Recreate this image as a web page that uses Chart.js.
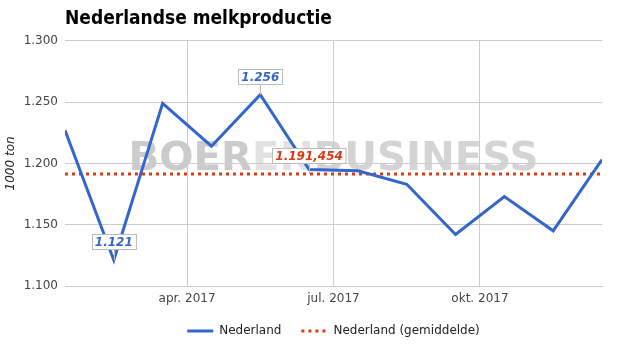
<!DOCTYPE html>
<html>
<head>
<meta charset="utf-8">
<script src="https://cdn.jsdelivr.net/npm/chart.js@4.4.1/dist/chart.umd.min.js"></script>
<style>
html, body { margin: 0; padding: 0; background: #fff; }
#wrap { width: 625px; height: 355px; }
</style>
</head>
<body>
<div id="wrap"><canvas id="myChart"></canvas></div>
<script>
// maandelijkse melkproductie 2017, in 1000 ton
var maanden = ['jan', 'feb', 'mrt', 'apr', 'mei', 'jun', 'jul', 'aug', 'sep', 'okt', 'nov', 'dec'];
var productie = [1227, 1121, 1249, 1214, 1256, 1195, 1194, 1183, 1142, 1173, 1145, 1203];
var gemiddelde = 1191.454;
var tickMaanden = [3, 6, 9];
var tickLabels = ['apr. 2017', 'jul. 2017', 'okt. 2017'];
var yTicks = [1100, 1150, 1200, 1250, 1300];

var FONT = '"DejaVu Sans", sans-serif';
var TITLE_FONT = '"DejaVu Sans Condensed", "DejaVu Sans", sans-serif';

function nl(v, dec) {
    var parts = v.toFixed(dec || 0).split('.');
    parts[0] = parts[0].replace(/\B(?=(\d{3})+(?!\d))/g, '.');
    return parts.join(',');
}

var lijn = productie.map(function (v, i) { return { x: i, y: v }; });
var gemLijn = productie.map(function (v, i) { return { x: i, y: gemiddelde }; });

// watermerk achter de lijnen
var watermark = {
    id: 'watermark',
    beforeDraw: function (chart) {
        var ctx = chart.ctx, a = chart.chartArea;
        var parts = [['BOER', '#cbcbcb'], ['EN', '#e2e2e2'], ['BUSINESS', '#d4d4d4']];
        ctx.save();
        ctx.font = 'bold 39px ' + FONT;
        var total = 0;
        parts.forEach(function (p) { total += ctx.measureText(p[0]).width; });
        var w = 410, sx = w / total;
        var x = (a.left + a.right) / 2 - w / 2;
        ctx.textBaseline = 'alphabetic';
        ctx.translate(x, 170);
        ctx.scale(sx, 1);
        var pos = 0;
        parts.forEach(function (p) {
            ctx.fillStyle = p[1];
            ctx.fillText(p[0], pos, 0);
            pos += ctx.measureText(p[0]).width;
        });
        ctx.restore();
    }
};

function tag(ctx, text, cx, py, color) {
    ctx.font = 'italic bold 12px ' + FONT;
    var tw = ctx.measureText(text).width;
    var bw = tw + 6, bh = 15;
    var bx = Math.round(cx - bw / 2) + 0.5, by = Math.round(py - 11 - bh) + 0.5;
    ctx.strokeStyle = '#bbbbbb';
    ctx.lineWidth = 1;
    ctx.beginPath();
    ctx.moveTo(Math.round(cx) + 0.5, by + bh);
    ctx.lineTo(Math.round(cx) + 0.5, py);
    ctx.stroke();
    ctx.fillStyle = '#ffffff';
    ctx.fillRect(bx, by, bw, bh);
    ctx.strokeRect(bx, by, bw, bh);
    ctx.fillStyle = color;
    ctx.textAlign = 'center';
    ctx.textBaseline = 'middle';
    ctx.fillText(text, cx, by + bh / 2 + 1);
}

var tags = {
    id: 'tags',
    afterDatasetsDraw: function (chart) {
        var ctx = chart.ctx, xs = chart.scales.x, ys = chart.scales.y;
        var iMax = productie.indexOf(Math.max.apply(null, productie));
        var iMin = productie.indexOf(Math.min.apply(null, productie));
        ctx.save();
        tag(ctx, nl(productie[iMax]), xs.getPixelForValue(iMax), ys.getPixelForValue(productie[iMax]), '#3366cc');
        tag(ctx, nl(productie[iMin]), xs.getPixelForValue(iMin), ys.getPixelForValue(productie[iMin]), '#3366cc');
        tag(ctx, nl(gemiddelde, 3), xs.getPixelForValue(5), ys.getPixelForValue(gemiddelde), '#dc3912');
        ctx.restore();
    }
};

var ctx = document.getElementById('myChart');
var myChart = new Chart(ctx, {
    type: 'line',
    data: {
        datasets: [{
            label: 'Nederland',
            data: lijn,
            borderColor: '#3366cc',
            backgroundColor: '#3366cc',
            borderWidth: 3,
            pointRadius: 0,
            tension: 0,
            fill: false
        }, {
            label: 'Nederland (gemiddelde)',
            data: gemLijn,
            borderColor: '#dc3912',
            backgroundColor: '#dc3912',
            borderWidth: 3,
            borderDash: [3, 4],
            borderCapStyle: 'butt',
            pointRadius: 0,
            fill: false
        }]
    },
    options: {
        responsive: true,
        maintainAspectRatio: false,
        animation: false,
        layout: { padding: { left: 0, right: 23, top: 0, bottom: 8 } },
        plugins: {
            title: {
                display: true,
                text: 'Nederlandse melkproductie',
                align: 'start',
                fullSize: false,
                color: '#000',
                font: { family: TITLE_FONT, size: 19, weight: 'bold' },
                padding: { top: 8, bottom: 10 }
            },
            legend: {
                position: 'bottom',
                fullSize: false,
                labels: {
                    usePointStyle: true,
                    pointStyle: 'line',
                    pointStyleWidth: 26,
                    color: '#222',
                    font: { family: FONT, size: 12 },
                    padding: 20,
                    generateLabels: function (chart) {
                        return chart.data.datasets.map(function (ds, i) {
                            return {
                                text: ds.label,
                                datasetIndex: i,
                                fillStyle: ds.borderColor,
                                strokeStyle: ds.borderColor,
                                lineWidth: 3,
                                lineDash: ds.borderDash || [],
                                lineCap: 'butt',
                                pointStyle: 'line',
                                fontColor: '#222',
                                hidden: false
                            };
                        });
                    }
                }
            },
            tooltip: { enabled: false }
        },
        scales: {
            x: {
                type: 'linear',
                min: 0,
                max: productie.length - 1,
                afterBuildTicks: function (scale) {
                    scale.ticks = tickMaanden.map(function (m) { return { value: m - 0.5 }; });
                },
                afterFit: function (scale) { scale.height = 19; },
                ticks: {
                    color: '#444',
                    font: { family: FONT, size: 12 },
                    padding: 6,
                    maxRotation: 0,
                    callback: function (v) {
                        var i = tickMaanden.indexOf(v + 0.5);
                        return i >= 0 ? tickLabels[i] : '';
                    }
                },
                grid: { color: '#cccccc', drawTicks: false },
                border: { color: '#cccccc' }
            },
            y: {
                min: yTicks[0],
                max: yTicks[yTicks.length - 1],
                afterBuildTicks: function (scale) {
                    scale.ticks = yTicks.map(function (v) { return { value: v }; });
                },
                afterFit: function (scale) { scale.width = 65; },
                ticks: {
                    color: '#444',
                    font: { family: FONT, size: 12 },
                    padding: 7,
                    callback: function (v) { return nl(v); }
                },
                title: {
                    display: true,
                    text: '1000 ton',
                    color: '#222',
                    font: { family: FONT, size: 12, style: 'italic' },
                    padding: { top: 4, bottom: 0 }
                },
                grid: { color: '#cccccc', drawTicks: false },
                border: { display: false }
            }
        }
    },
    plugins: [watermark, tags]
});
</script>
</body>
</html>
